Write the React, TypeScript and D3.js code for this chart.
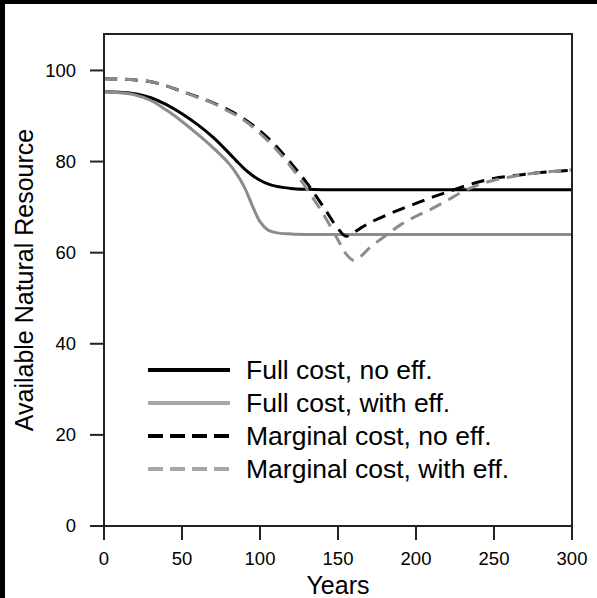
import React from "react";
import * as d3 from "d3";

// years sampled for every series
const years = [0, 10, 20, 30, 40, 50, 60, 70, 80, 85, 90, 95, 100, 105, 110, 120, 130, 140, 150, 155, 160, 165, 170, 180, 190, 200, 210, 220, 230, 240, 250, 260, 270, 280, 290, 300];

const fullNoEff = [95.3, 95.2, 94.9, 94.0, 92.5, 90.5, 88.1, 85.3, 81.9, 80.1, 78.4, 77.0, 75.9, 75.1, 74.6, 74.1, 73.9, 73.8, 73.8, 73.8, 73.8, 73.8, 73.8, 73.8, 73.8, 73.8, 73.8, 73.8, 73.8, 73.8, 73.8, 73.8, 73.8, 73.8, 73.8, 73.8];
const fullWithEff = [95.3, 95.1, 94.6, 93.4, 91.3, 88.8, 86.0, 83.0, 79.6, 77.3, 74.4, 70.4, 66.8, 65.0, 64.4, 64.1, 64.0, 64.0, 64.0, 64.0, 64.0, 64.0, 64.0, 64.0, 64.0, 64.0, 64.0, 64.0, 64.0, 64.0, 64.0, 64.0, 64.0, 64.0, 64.0, 64.0];
const marginalNoEff = [98.2, 98.1, 97.9, 97.5, 96.6, 95.4, 94.2, 92.9, 91.3, 90.4, 89.3, 88.1, 86.7, 85.2, 83.5, 79.6, 75.3, 70.4, 65.3, 63.6, 64.4, 65.5, 66.5, 68.1, 69.5, 70.8, 72.1, 73.3, 74.5, 75.5, 76.3, 76.8, 77.2, 77.6, 77.9, 78.1];
const marginalWithEff = [98.2, 98.1, 97.9, 97.5, 96.6, 95.4, 94.1, 92.8, 91.0, 90.1, 89.0, 87.7, 86.2, 84.6, 82.8, 78.8, 74.0, 68.8, 62.8, 59.8, 58.3, 59.3, 61.0, 63.6, 66.1, 68.0, 69.6, 71.5, 73.4, 74.9, 75.9, 76.6, 77.2, 77.6, 77.9, 78.2];

const xTicks = [0, 50, 100, 150, 200, 250, 300];
const yTicks = [0, 20, 40, 60, 80, 100];

const seriesNames = ["Full cost, no eff.", "Full cost, with eff.", "Marginal cost, no eff.", "Marginal cost, with eff."];
const seriesValues = [fullNoEff, fullWithEff, marginalNoEff, marginalWithEff];
const seriesColors = ["#000000", "#8c8c8c", "#000000", "#8c8c8c"];
const legendColors = ["#000000", "#a6a6a6", "#000000", "#a6a6a6"];
const seriesDashed = [false, false, true, true];

const W = 597;
const H = 598;
const plot = { left: 104, right: 572, top: 34, bottom: 526 };
const font = "'Liberation Sans', Arial, Helvetica, sans-serif";

export default function App() {
  const x = d3.scaleLinear().domain([0, 300]).range([plot.left, plot.right]);
  const y = d3.scaleLinear().domain([0, 108]).range([plot.bottom, plot.top]);

  const line = d3
    .line<[number, number]>()
    .x((d) => x(d[0]))
    .y((d) => y(d[1]))
    .curve(d3.curveCatmullRom.alpha(0.5));

  const legendY = [370, 403, 436, 469];

  return (
    <svg width={W} height={H} style={{ position: "absolute", left: 0, top: 0 }} fontFamily={font}>
      <rect x={0} y={0} width={W} height={H} fill="#ffffff" />
      {/* black edges of the original screenshot */}
      <rect x={0} y={0} width={W} height={4} fill="#000" />
      <rect x={0} y={0} width={5} height={H} fill="#000" />

      <defs>
        <clipPath id="plot-clip">
          <rect x={plot.left} y={plot.top} width={plot.right - plot.left} height={plot.bottom - plot.top} />
        </clipPath>
      </defs>

      {/* series */}
      <g clipPath="url(#plot-clip)">
        {seriesValues.map((vals, i) => (
          <path
            key={seriesNames[i]}
            d={line(years.map((yr, j) => [yr, vals[j]] as [number, number])) || ""}
            fill="none"
            stroke={seriesColors[i]}
            strokeWidth={3}
            strokeDasharray={seriesDashed[i] ? "13 8" : undefined}
          />
        ))}
      </g>

      {/* box */}
      <rect
        x={plot.left}
        y={plot.top}
        width={plot.right - plot.left}
        height={plot.bottom - plot.top}
        fill="none"
        stroke="#222"
        strokeWidth={2}
      />

      {/* x axis */}
      {xTicks.map((t) => (
        <g key={"x" + t}>
          <line x1={x(t)} x2={x(t)} y1={plot.bottom} y2={plot.bottom + 14} stroke="#222" strokeWidth={2} />
          <text x={x(t)} y={565} textAnchor="middle" fontSize={18.5} fill="#000">
            {t}
          </text>
        </g>
      ))}
      <text x={(plot.left + plot.right) / 2} y={594} textAnchor="middle" fontSize={25} fill="#000">
        Years
      </text>

      {/* y axis */}
      {yTicks.map((t) => (
        <g key={"y" + t}>
          <line x1={plot.left - 14} x2={plot.left} y1={y(t)} y2={y(t)} stroke="#222" strokeWidth={2} />
          <text x={76} y={y(t)} dy="0.35em" textAnchor="end" fontSize={18.5} fill="#000">
            {t}
          </text>
        </g>
      ))}
      <text
        transform={`translate(33, ${(plot.top + plot.bottom) / 2}) rotate(-90)`}
        textAnchor="middle"
        fontSize={25}
        fill="#000"
      >
        Available Natural Resource
      </text>

      {/* legend */}
      {seriesNames.map((name, i) => (
        <g key={"leg" + i}>
          <line
            x1={148}
            x2={230}
            y1={legendY[i]}
            y2={legendY[i]}
            stroke={legendColors[i]}
            strokeWidth={4}
            strokeDasharray={seriesDashed[i] ? "15 7" : undefined}
          />
          <text x={246} y={legendY[i]} dy="0.35em" fontSize={26.5} fill="#000">
            {name}
          </text>
        </g>
      ))}
    </svg>
  );
}
